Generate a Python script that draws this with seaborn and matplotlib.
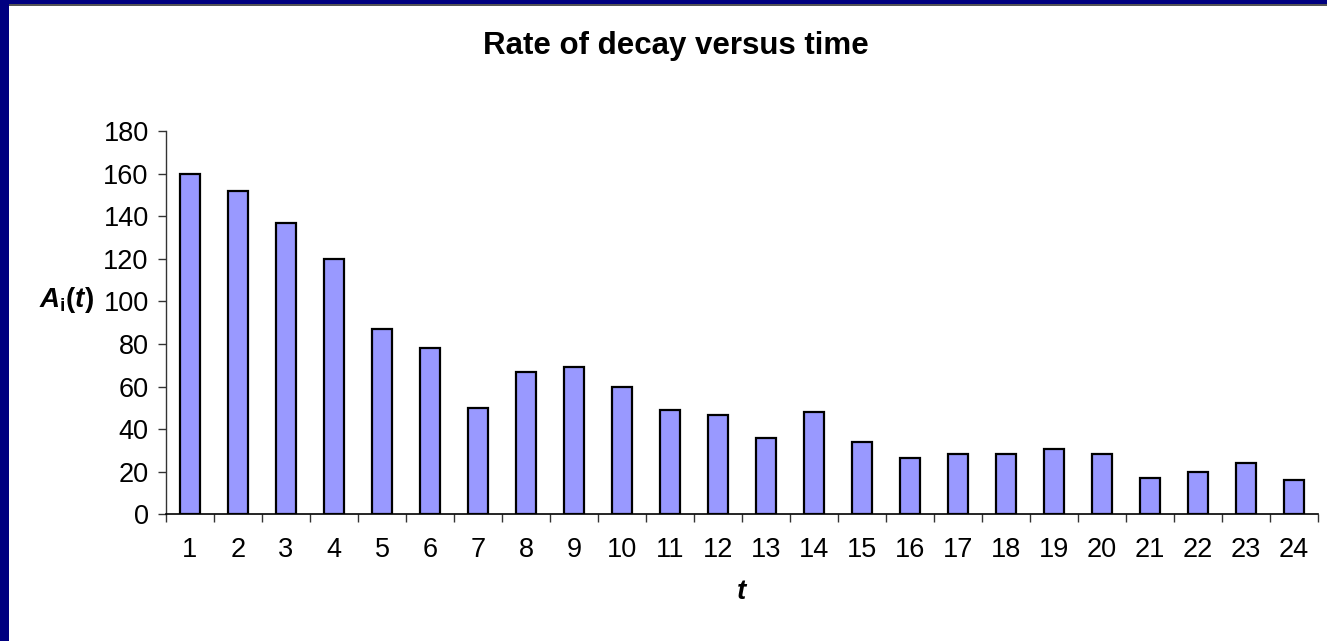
import matplotlib
matplotlib.use("Agg")
import matplotlib.pyplot as plt
import seaborn as sns
import pandas as pd
import numpy as np
from matplotlib.patches import Rectangle

# ---- data ----
t_labels = [str(i) for i in range(1, 25)]
activity = [160, 152, 137, 120, 87, 78, 50, 67, 69, 60, 49, 46.5,
            36, 48, 34, 26.5, 28.5, 28.5, 30.5, 28.5, 17, 20, 24, 16]
y_ticks = [0, 20, 40, 60, 80, 100, 120, 140, 160, 180]

df = pd.DataFrame({"t": t_labels, "A": activity})

sns.set_theme(style="white")
plt.rcParams["font.family"] = ["Liberation Sans", "DejaVu Sans"]
plt.rcParams["text.color"] = "black"
plt.rcParams["xtick.color"] = "black"
plt.rcParams["ytick.color"] = "black"
plt.rcParams["mathtext.fontset"] = "custom"
plt.rcParams["mathtext.it"] = "Liberation Sans:italic:bold"
plt.rcParams["mathtext.rm"] = "Liberation Sans:bold"
plt.rcParams["mathtext.bf"] = "Liberation Sans:bold"

W, H = 1327, 641
fig = plt.figure(figsize=(W / 100, H / 100), dpi=100)
fig.patch.set_facecolor("white")

ax = fig.add_axes([166 / W, 1 - 514.3 / H, (1318 - 166) / W, (514.3 - 131) / H])

sns.barplot(data=df, x="t", y="A", order=t_labels, color="#9999FF",
            edgecolor="black", linewidth=1.6, width=0.42, saturation=1, ax=ax)

ax.set_xlim(-0.5, len(t_labels) - 0.5)
ax.set_ylim(0, 180)
ax.set_yticks(y_ticks)
ax.set_yticklabels([str(v) for v in y_ticks], fontsize=19.5, color="black")
ax.set_xticks(range(len(t_labels)))
ax.set_xticklabels(t_labels, fontsize=19.5, color="black")
ax.set_xticks(np.arange(-0.5, len(t_labels)), minor=True)
ax.tick_params(axis="x", which="major", length=0, pad=16)
ax.tick_params(axis="x", which="minor", length=6, width=1, color="#333333", direction="out", bottom=True)
ax.tick_params(axis="y", which="major", length=5.5, width=1, color="#333333", pad=7,
               direction="out", left=True)

for s in ["top", "right"]:
    ax.spines[s].set_visible(False)
ax.spines["left"].set_color("#333333")
ax.spines["bottom"].set_color("black")
ax.spines["left"].set_linewidth(1)
ax.spines["bottom"].set_linewidth(1.2)
ax.set_xlabel("")
ax.set_ylabel("")
ax.grid(False)

fig.text(675.5 / W, 1 - 46 / H, "Rate of decay versus time", ha="center", va="center",
         fontsize=22.5, fontweight="bold", color="black")
fig.text(67 / W, 1 - 300 / H, r"$A_{\mathrm{i}}(t)$", ha="center", va="center",
         fontsize=20, color="black")
fig.text(742 / W, 1 - 592 / H, r"$t$", ha="center", va="center", fontsize=20, color="black")

# navy frame edges
fig.patches.append(Rectangle((0, 1 - 4 / H), 1, 4 / H, transform=fig.transFigure,
                             facecolor="#000080", edgecolor="none", zorder=10))
fig.patches.append(Rectangle((0, 1 - 5.5 / H), 1, 1.5 / H, transform=fig.transFigure,
                             facecolor="#555555", edgecolor="none", zorder=9))
fig.patches.append(Rectangle((0, 0), 9 / W, 1, transform=fig.transFigure,
                             facecolor="#000080", edgecolor="none", zorder=10))

fig.savefig("out.png", dpi=100)
